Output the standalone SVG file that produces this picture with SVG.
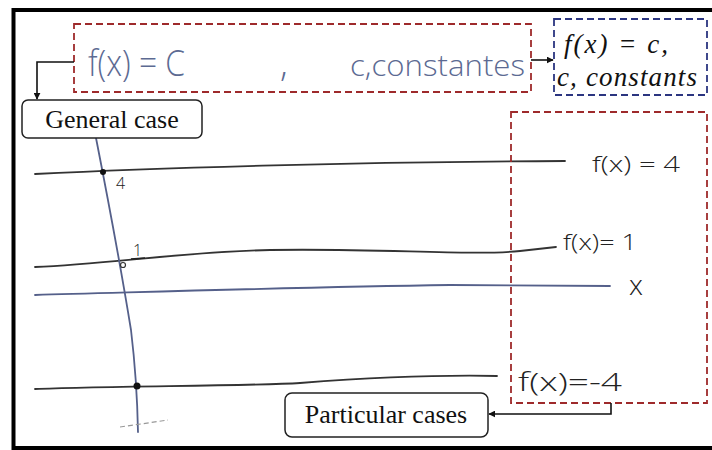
<svg xmlns="http://www.w3.org/2000/svg" width="712" height="450" viewBox="0 0 712 450">
<style>
.frame{fill:none;stroke:#000;stroke-width:4}
.reddash{fill:none;stroke:#9e2a2b;stroke-width:1.8;stroke-dasharray:7,4}
.bluedash{fill:none;stroke:#2b3580;stroke-width:1.8;stroke-dasharray:7,4}
.box{fill:#fff;stroke:#222;stroke-width:1.5}
.lbl{font-family:"Liberation Serif","Times New Roman",serif;font-size:26px;fill:#111}
.math{font-family:"Liberation Serif","DejaVu Serif",serif;font-style:italic;font-weight:normal;font-size:27px;fill:#111}
.hand{font-family:"Open Sans","DejaVu Sans",sans-serif;font-weight:300;fill:#222}
.handblue{font-family:"Open Sans","DejaVu Sans",sans-serif;font-weight:300;fill:#5c6a92}
.curve{fill:none;stroke:#333;stroke-width:1.8;stroke-linecap:round}
.axis{fill:none;stroke:#55608a;stroke-width:1.8;stroke-linecap:round}
.conn{fill:none;stroke:#111;stroke-width:1.6}
</style>
<defs>
<marker id="arr" viewBox="0 0 10 10" refX="9" refY="5" markerWidth="7" markerHeight="7" orient="auto" markerUnits="userSpaceOnUse">
<path d="M0,0 L10,5 L0,10 z" fill="#111"/>
</marker>
</defs>
<rect width="712" height="450" fill="#fff"/>
<rect class="frame" x="13.5" y="10" width="712" height="438"/>

<g id="sketch">
<path class="curve" d="M35,174 C150,168 350,162 565,161"/>
<path class="curve" d="M35,267 C110,264 180,252 270,250 C380,248 470,256 520,251 L556,247"/>
<path class="axis" d="M35,295 C150,292 300,287 450,285 L610,286"/>
<path class="curve" d="M35,389 C100,386 250,386 300,383 C380,377 450,375 497,376"/>
<path class="axis" d="M96,138 Q118,250 131,330 Q137,380 138,432"/>
<path d="M120,427 L168,420" stroke="#999" stroke-width="1.2" stroke-dasharray="5,3" fill="none"/>
<circle cx="103" cy="172" r="3" fill="#111"/>
<circle cx="123" cy="265" r="2.5" fill="#fff" stroke="#333" stroke-width="1.2"/>
<circle cx="137" cy="386" r="3.5" fill="#111"/>
<text class="hand" x="116" y="189" font-size="16" font-weight="700">4</text>
<text class="hand" x="133" y="256" font-size="16" font-weight="700">1</text>
<path d="M131,259 L145,258" stroke="#222" stroke-width="1.5"/>
<text class="hand" x="592" y="172" font-size="22" textLength="88" lengthAdjust="spacingAndGlyphs">f(x) = 4</text>
<text class="hand" x="563" y="250" font-size="22" textLength="74" lengthAdjust="spacingAndGlyphs">f(x)= 1</text>
<text class="hand" x="629" y="295" font-size="28">x</text>
<text class="hand" x="518" y="391" font-size="26" textLength="104" lengthAdjust="spacingAndGlyphs">f(x)=-4</text>
</g>

<g id="handwritten-box">
<rect class="reddash" x="74" y="24" width="457" height="68"/>
<text class="handblue" x="88" y="76" font-size="36" textLength="97" lengthAdjust="spacingAndGlyphs">f(x) = C</text>
<text class="handblue" x="280" y="76" font-size="36">,</text>
<text class="handblue" x="350" y="76" font-size="30" textLength="175" lengthAdjust="spacingAndGlyphs">c,constantes</text>
</g>

<g id="math-box">
<rect class="bluedash" x="554" y="19" width="153" height="76"/>
<text class="math" x="564" y="53" textLength="104" lengthAdjust="spacing">f(x) = c,</text>
<text class="math" x="557" y="86" textLength="140" lengthAdjust="spacing">c, constants</text>
</g>

<g id="general-case">
<rect class="box" x="22" y="100" width="180" height="38" rx="6"/>
<text class="lbl" x="112" y="128" text-anchor="middle">General case</text>
</g>

<g id="particular-region">
<rect class="reddash" x="511" y="112" width="196" height="291"/>
</g>

<g id="particular-cases">
<rect class="box" x="285" y="393" width="203" height="44" rx="7"/>
<text class="lbl" x="386" y="423" text-anchor="middle">Particular cases</text>
</g>

<g id="connectors">
<path class="conn" d="M74,62 L37,62 L37,99" marker-end="url(#arr)"/>
<path class="conn" d="M531,60 L553,60" marker-end="url(#arr)"/>
<path class="conn" d="M611,403 L611,414 L489,414" marker-end="url(#arr)"/>
</g>
</svg>
